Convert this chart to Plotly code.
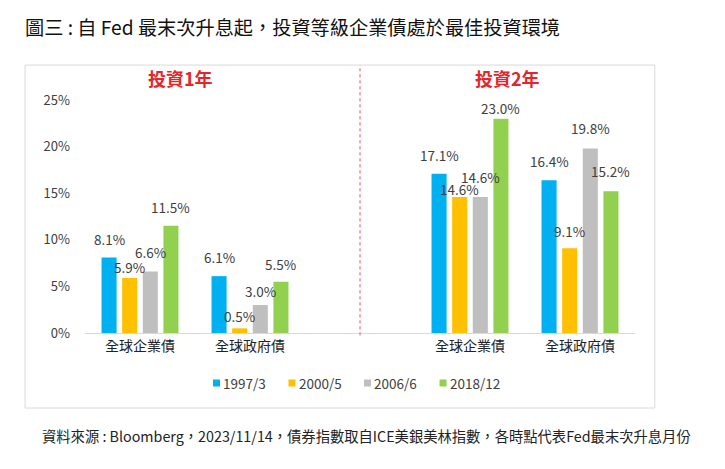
import plotly.graph_objects as go

# 資料
categories = ["全球企業債", "全球政府債", "全球企業債", "全球政府債"]
horizons = ["投資1年", "投資1年", "投資2年", "投資2年"]
series_names = ["1997/3", "2000/5", "2006/6", "2018/12"]
v_1997 = [8.1, 6.1, 17.1, 16.4]
v_2000 = [5.9, 0.5, 14.6, 9.1]
v_2006 = [6.6, 3.0, 14.6, 19.8]
v_2018 = [11.5, 5.5, 23.0, 15.2]
y_ticks = [0, 5, 10, 15, 20, 25]

colors = ["#00B0F0", "#FFC000", "#BFBFBF", "#92D050"]
series_values = [v_1997, v_2000, v_2006, v_2018]
# 標籤離柱頂的距離 (px)，照原圖微調
label_lift = [[19, 19, 19, 19],
              [11, 12, 8, 17],
              [19, 14, 20, 20],
              [19, 18, 11, 20]]

# 每個分類一個唯一的鍵，中間留一個空位當分隔
keys = [h + "|" + c for h, c in zip(horizons, categories)]
order = keys[:2] + ["gap"] + keys[2:]

fig = go.Figure()
for name, vals, col in zip(series_names, series_values, colors):
    fig.add_trace(go.Bar(x=keys, y=vals, name=name, marker_color=col,
                         marker_line_width=0, showlegend=False))

# 數值標籤
slot = 20.6
for j, vals in enumerate(series_values):
    for k, v, lift in zip(keys, vals, label_lift[j]):
        fig.add_annotation(x=k, y=v, text=f"{v:.1f}%", showarrow=False,
                           xref="x", yref="y", xshift=(j - 1.5) * slot,
                           yshift=lift, font=dict(size=13.5, color="#404040"))

# 圖例 (小方塊 + 文字，像 Excel 的樣子)
leg_y = -0.2146
for i, (name, col) in enumerate(zip(series_names, colors)):
    xp = 0.2327 + i * 0.1373
    fig.add_shape(type="rect", xref="paper", yref="paper",
                  xsizemode="pixel", ysizemode="pixel", xanchor=xp, yanchor=leg_y,
                  x0=0, x1=7, y0=-3.5, y1=3.5, fillcolor=col, line_width=0)
    fig.add_annotation(text=name, x=xp, y=leg_y, xref="paper", yref="paper",
                       xanchor="left", yanchor="middle", xshift=8, showarrow=False,
                       font=dict(size=13.5, color="#404040"))

# 分隔線與外框
fig.add_shape(type="line", xref="x", yref="paper", x0="gap", x1="gap",
              y0=-0.01, y1=1.15, line=dict(color="#E05050", width=1, dash="dot"))
fig.add_shape(type="rect", xref="paper", yref="paper", x0=-0.109, x1=1.036,
              y0=-0.322, y1=1.15, line=dict(color="#D9D9D9", width=1), layer="below")

for text, xpos in [("投資1年", 0.173), ("投資2年", 0.769)]:
    fig.add_annotation(text="<b>" + text + "</b>", x=xpos, y=1.094, xref="paper", yref="paper",
                       xanchor="center", yanchor="middle", showarrow=False,
                       font=dict(size=18, color="#E3262A"))

fig.add_annotation(text="資料來源 : Bloomberg，2023/11/14，債券指數取自ICE美銀美林指數，各時點代表Fed最末次升息月份",
                   x=-0.082, y=-0.438, xref="paper", yref="paper", xanchor="left",
                   yanchor="middle", showarrow=False, font=dict(size=14.3, color="#222222"))

fig.update_layout(
    width=717, height=461,
    margin=dict(l=77, r=90, t=92, b=136),
    paper_bgcolor="white", plot_bgcolor="white",
    font=dict(family="Noto Sans CJK TC", size=13, color="#404040"),
    title=dict(text="圖三 : 自 Fed 最末次升息起，投資等級企業債處於最佳投資環境",
               x=0.0237, xanchor="left", y=0.957, yanchor="middle",
               font=dict(size=19.2, color="#111111")),
    barmode="group", bargap=0.25, bargroupgap=0.27,
    xaxis=dict(categoryorder="array", categoryarray=order,
               tickvals=keys, ticktext=categories, showline=True,
               linecolor="#D9D9D9", linewidth=1, ticks="", showgrid=False,
               tickfont=dict(size=14, color="#222222")),
    yaxis=dict(range=[0, 25], tickvals=y_ticks, ticktext=[f"{t}%" for t in y_ticks],
               showgrid=False, zeroline=False, ticks="", ticklabelstandoff=14,
               tickfont=dict(size=13, color="#404040")),
)

fig.write_html("out.html")
